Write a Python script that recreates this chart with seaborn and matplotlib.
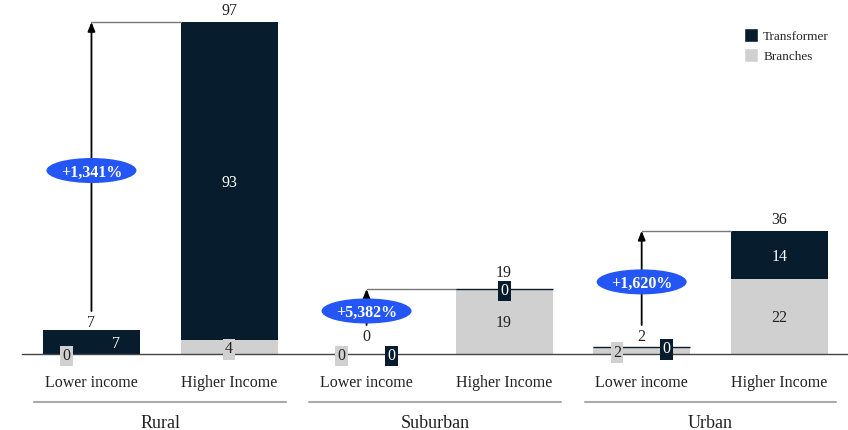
import matplotlib
matplotlib.use("Agg")
import matplotlib.pyplot as plt
import matplotlib.transforms as mtransforms
from matplotlib.patches import Ellipse, Rectangle
import seaborn as sns
import pandas as pd

# ---- data -------------------------------------------------------------
groups = ["Rural", "Suburban", "Urban"]
income_levels = ["Lower income", "Higher Income"]
branches = [0, 4, 0, 19, 2, 22]
transformer = [7, 93, 0, 0, 0, 14]
growth_labels = ["+1,341%", "+5,382%", "+1,620%"]
series_names = ["Transformer", "Branches"]

# ---- style ------------------------------------------------------------
DARK = "#071d2d"
GRAY = "#d0d0d0"
BLUE = "#2356f5"
TEXT = "#222222"
FS = 11.5
VA = "center_baseline"

sns.set_theme(style="white")
plt.rcParams["font.family"] = ["Liberation Serif", "DejaVu Serif"]

bar_ids = [f"{g}|{lvl}" for g in groups for lvl in income_levels]
df = pd.DataFrame({"bar": bar_ids, "Branches": branches, "Transformer": transformer})
df["Total"] = df["Branches"] + df["Transformer"]

W, H = 848, 430
fig = plt.figure(figsize=(W / 100, H / 100), dpi=100)
ax_left_px, base_px, top_px = 22, 354, 10
ax = fig.add_axes([ax_left_px / W, 1 - base_px / H, 1 - ax_left_px / W, (base_px - top_px) / H])

YMAX = 100.5
XLIM = (-0.505, 5.5)
ppu = (base_px - top_px) / YMAX               # pixels per y unit
ppx = (W - ax_left_px) / (XLIM[1] - XLIM[0])  # pixels per x unit


def dy(px):
    return px / ppu


width = 0.705
# stacked bars: full total in dark, branches overlaid from the baseline
sns.barplot(data=df, x="bar", y="Total", order=bar_ids, color=DARK, width=width,
            saturation=1, errorbar=None, linewidth=0, ax=ax)
sns.barplot(data=df, x="bar", y="Branches", order=bar_ids, color=GRAY, width=width,
            saturation=1, errorbar=None, linewidth=0, ax=ax)

ax.set_xlim(*XLIM)
ax.set_ylim(0, YMAX)

# zero-height transformer segments shown as a thin rule on top of the bar
for i, row in df.iterrows():
    if row.Transformer == 0 and row.Total > 0:
        ax.hlines(row.Total, i - width / 2, i + width / 2, color=DARK, lw=1, zorder=4)

# segment value labels
for i, row in df.iterrows():
    small_bar = row.Total < 10
    segs = [(0, row.Branches, GRAY, TEXT, -0.18),
            (row.Branches, row.Transformer, DARK, "white", 0.18)]
    for base, val, fc, tc, xo in segs:
        x = i + (xo if small_bar else 0)
        y = base + val / 2
        boxed = val * ppu < 15
        bbox = dict(boxstyle="square,pad=0.15", fc=fc, ec="none") if boxed else None
        ax.text(x, y, f"{val}", ha="center", va=VA, color=tc, fontsize=FS,
                bbox=bbox, zorder=5)

# totals, growth arrows and badges
for g, label in enumerate(growth_labels):
    lo, hi = 2 * g, 2 * g + 1
    tot_lo, tot_hi = df.Total[lo], df.Total[hi]

    lo_label_y = dy(max(tot_lo * ppu + 9, 19))
    ax.text(lo, lo_label_y, f"{tot_lo}", ha="center", va=VA, color=TEXT, fontsize=FS)

    hi_off = 18 if df.Transformer[hi] == 0 else 13
    ax.text(hi, tot_hi + dy(hi_off), f"{tot_hi}", ha="center", va=VA,
            color=TEXT, fontsize=FS, clip_on=False)

    start = lo_label_y + dy(10)
    ax.plot([lo, hi - width / 2], [tot_hi, tot_hi], color="#777777", lw=1, zorder=3)
    ax.annotate("", xy=(lo, tot_hi), xytext=(lo, start),
                arrowprops=dict(arrowstyle="-|>,head_length=0.45,head_width=0.18",
                                color="black", lw=1.3, shrinkA=0, shrinkB=0), zorder=3)

    yc = (start + tot_hi) / 2 - dy(4)
    ax.add_patch(Ellipse((lo, yc), width=90 / ppx, height=dy(25), fc=BLUE, ec="none", zorder=6))
    ax.text(lo, yc, label, ha="center", va=VA, color="white", fontsize=FS,
            fontweight="bold", zorder=7)

# axes cosmetics
ax.set_xticks(range(len(bar_ids)))
ax.set_xticklabels([lvl for _ in groups for lvl in income_levels], fontsize=FS, color=TEXT)
ax.tick_params(axis="x", length=0, pad=15)
ax.set_yticks([])
ax.set_xlabel("")
ax.set_ylabel("")
sns.despine(ax=ax, left=True)
ax.spines["bottom"].set_color("#444444")
ax.spines["bottom"].set_linewidth(1)

# group rules and names below the tick labels
blend = mtransforms.blended_transform_factory(ax.transData, fig.transFigure)
for g, name in enumerate(groups):
    c = 2 * g + 0.5
    line = plt.Line2D([c - 0.915, c + 0.915], [1 - 402 / H] * 2, transform=blend,
                      color="#aaaaaa", lw=1.5)
    fig.add_artist(line)
    fig.text(c, 1 - 421 / H, name, transform=blend, ha="center", va=VA,
             fontsize=13, color=TEXT)

handles = [Rectangle((0, 0), 1, 1, fc=DARK), Rectangle((0, 0), 1, 1, fc=GRAY)]
fig.legend(handles, series_names, loc="upper left", bbox_to_anchor=(744 / W, 1 - 28 / H),
           frameon=False, fontsize=9.5, handlelength=1.05, handleheight=1.3,
           handletextpad=0.4, labelspacing=0.4, borderpad=0, borderaxespad=0)

fig.savefig("out.png", dpi=100)
